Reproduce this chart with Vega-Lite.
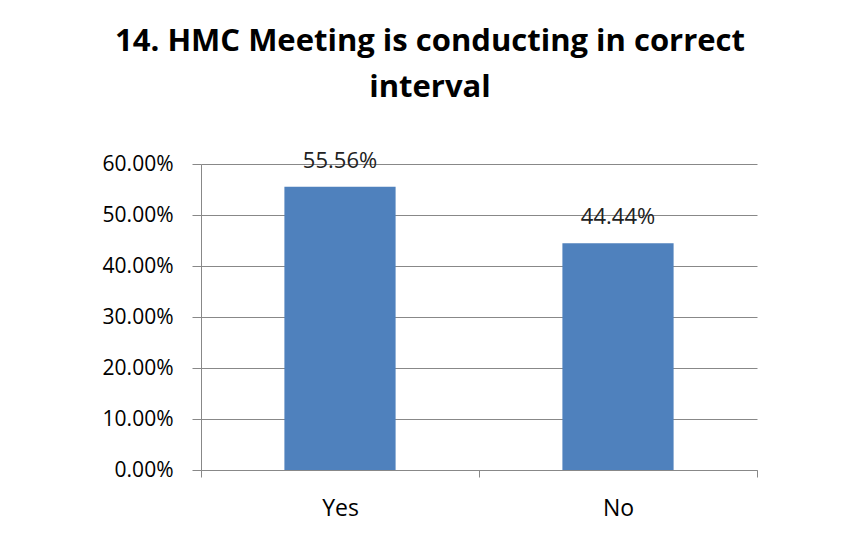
{
  "$schema": "https://vega.github.io/schema/vega-lite/v6.json",
  "width": 556,
  "height": 306,
  "autosize": {"type": "none"},
  "padding": {"left": 201, "top": 164, "right": 104, "bottom": 84},
  "background": "white",
  "title": {
    "text": ["14. HMC Meeting is conducting in correct", "interval"],
    "font": "Open Sans",
    "fontSize": 31,
    "fontWeight": "bold",
    "color": "black",
    "anchor": "middle",
    "dx": -49,
    "offset": 46,
    "lineHeight": 46
  },
  "data": {"values": [
    {"answer": "Yes", "pct": 0.5556},
    {"answer": "No", "pct": 0.4444}
  ]},
  "encoding": {
    "x": {
      "field": "answer", "type": "nominal", "sort": null,
      "scale": {"paddingInner": 0, "paddingOuter": 0},
      "axis": {
        "title": null, "labelAngle": 0, "labelFont": "Open Sans", "labelFontSize": 23,
        "labelColor": "black", "labelPadding": 20, "tickBand": "extent",
        "tickSize": 7, "tickColor": "#888888", "domainColor": "#888888", "grid": false
      }
    },
    "y": {
      "field": "pct", "type": "quantitative",
      "scale": {"domain": [0, 0.6]},
      "axis": {
        "title": null, "format": ".2%", "values": [0, 0.1, 0.2, 0.3, 0.4, 0.5, 0.6],
        "labelFont": "Open Sans", "labelFontSize": 21, "labelColor": "black",
        "tickSize": 9, "tickColor": "#888888", "domainColor": "#888888",
        "gridColor": "#888888", "labelPadding": 19
      }
    }
  },
  "layer": [
    {"mark": {"type": "bar", "color": "#4F81BD", "width": {"band": 0.4}}},
    {
      "mark": {"type": "text", "baseline": "alphabetic", "dy": -19, "font": "Open Sans", "fontSize": 22, "color": "#222222"},
      "encoding": {"text": {"field": "pct", "format": ".2%"}}
    }
  ],
  "config": {"view": {"stroke": null}}
}
